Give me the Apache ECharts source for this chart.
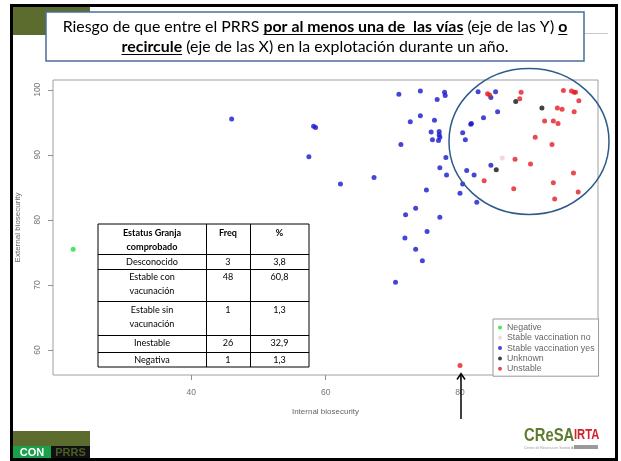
<!DOCTYPE html>
<html><head><meta charset="utf-8">
<script src="https://cdn.jsdelivr.net/npm/echarts@6/dist/echarts.min.js"></script>
<style>html,body{margin:0;padding:0;background:#fff}#c{width:621px;height:461px}</style>
</head><body><div id="c"></div>
<script>
// ---------------- DATA ----------------
const seriesNames = ['Negative', 'Stable vaccination no', 'Stable vaccination yes', 'Unknown', 'Unstable'];
const negative = [[22.4, 75.5]];
const stableVaccNo = [[86.3, 89.5]];
const stableVaccYes = [
  [70.9,99.3],[74.1,99.8],[77.7,99.6],[77.8,99.1],[76.6,98.5],[82.7,99.7],[85.3,99.7],[84.6,98.8],[85.6,96.6],[83.5,95.7],
  [81.6,94.7],[81.7,94.8],[74.1,96.0],[72.6,95.1],[76.2,95.3],[75.7,93.5],[76.9,93.6],[80.4,93.4],[77.0,92.7],[75.9,92.3],
  [76.8,92.2],[80.8,92.3],[71.2,91.6],[58.2,94.4],[58.5,94.2],[57.5,89.7],[77.9,89.6],[77.0,88.0],[81.0,87.6],[78.0,86.9],
  [82.1,86.9],[84.6,88.4],[67.2,86.5],[62.2,85.5],[80.4,85.5],[75.0,84.6],[80.0,84.1],[82.5,82.7],[73.4,81.8],[71.9,80.8],
  [77.0,80.4],[75.1,78.2],[71.8,77.2],[73.4,75.5],[74.4,73.7],[70.4,70.4],[46.0,95.5],[76.9,93.1]
];
const unknown = [[88.3, 98.2], [92.2, 97.2], [85.4, 87.7]];
const unstable = [
  [84.1,99.4],[84.4,99.2],[89.1,99.6],[88.9,98.6],[95.4,99.9],[96.6,99.8],[97.0,99.6],[97.2,99.6],[97.7,98.3],[94.5,97.2],
  [95.2,97.0],[97.0,96.6],[92.6,95.2],[93.9,95.2],[94.6,94.8],[91.2,92.7],[93.7,91.6],[88.2,89.3],[90.5,88.6],[96.9,87.2],
  [83.6,86.0],[93.9,85.7],[88.0,84.8],[97.6,84.3],[94.1,83.2],[80.0,57.6]
];
const xTicks = [40, 60, 80];
const yTicks = [60, 70, 80, 90, 100];
const xName = 'Internal biosecurity';
const yName = 'External biosecurity';

const tableHeader = [['Estatus Granja', 'comprobado'], ['Freq'], ['%']];
const tableStatus = [['Desconocido'], ['Estable con', 'vacunación'], ['Estable sin', 'vacunación'], ['Inestable'], ['Negativa']];
const tableFreq = ['3', '48', '1', '26', '1'];
const tablePct = ['3,8', '60,8', '1,3', '32,9', '1,3'];

const titleLine1 = [
  {t: 'Riesgo de que entre el PRRS ', b: false},
  {t: 'por al menos una de  las vías', b: true, u: true},
  {t: ' (eje de las Y) ', b: false},
  {t: 'o', b: true, u: true}
];
const titleLine2 = [
  {t: 'recircule', b: true, u: true},
  {t: ' (eje de las X) en la explotación durante un año.', b: false}
];

// ---------------- STYLE ----------------
const colors = ['#22dd33', '#f2cdd0', '#1616cc', '#111111', '#e61c26'];
const seriesData = [negative, stableVaccNo, stableVaccYes, unknown, unstable];

const mctx = document.createElement('canvas').getContext('2d');
function tw(t, f) { mctx.font = f; return mctx.measureText(t).width; }
const TF = 'Lato';
function fontOf(bold, size) { return (bold ? 'bold ' : 'normal ') + size.toFixed(2) + 'px ' + TF; }

const g = [];
// outer slide frame
g.push({type: 'rect', z: 100, shape: {x: 11.5, y: 5.5, width: 605, height: 454}, style: {fill: 'none', stroke: '#000', lineWidth: 3}});
// top-left olive block
g.push({type: 'rect', z: 15, shape: {x: 13, y: 7, width: 77, height: 28}, style: {fill: '#5c6b2e'}});
// faint decoration line right of title
g.push({type: 'line', z: 15, shape: {x1: 584, y1: 33.5, x2: 608, y2: 33.5}, style: {stroke: '#c8c8c8', lineWidth: 1}});
// title box
g.push({type: 'rect', z: 16, shape: {x: 46, y: 12, width: 538, height: 49}, style: {fill: '#fff', stroke: '#4a6f9a', lineWidth: 1.5}});

const w100 = titleLine1.reduce((s, seg) => s + tw(seg.t, fontOf(seg.b, 100)), 0);
const tSize = 505 / w100 * 100;
function addLine(segs, cx, cy) {
  const W = segs.reduce((s, seg) => s + tw(seg.t, fontOf(seg.b, tSize)), 0);
  let x = cx - W / 2;
  segs.forEach(seg => {
    const f = fontOf(seg.b, tSize);
    const w = tw(seg.t, f);
    g.push({type: 'text', z: 20, style: {text: seg.t, x: x, y: cy, font: f, fill: '#000', textAlign: 'left', textVerticalAlign: 'middle'}});
    if (seg.u) {
      const uy = Math.round(cy + tSize * 0.42) + 0.5;
      g.push({type: 'line', z: 20, shape: {x1: x, y1: uy, x2: x + w, y2: uy}, style: {stroke: '#000', lineWidth: 1}});
    }
    x += w;
  });
}
addLine(titleLine1, 315, 27);
addLine(titleLine2, 315, 47);

// table
const colX = [98, 206, 250, 309];
const rowY = [224, 253.5, 268.5, 301, 334.5, 351.5, 367];
const tabSize = 52 / tw('Desconocido', fontOf(false, 100)) * 100;
g.push({type: 'rect', z: 10, shape: {x: colX[0], y: rowY[0], width: colX[3] - colX[0], height: rowY[6] - rowY[0]}, style: {fill: '#fff', stroke: '#000', lineWidth: 1}});
for (let i = 1; i < rowY.length - 1; i++) {
  g.push({type: 'line', z: 11, shape: {x1: colX[0], y1: Math.round(rowY[i]) + 0.5, x2: colX[3], y2: Math.round(rowY[i]) + 0.5}, style: {stroke: '#000', lineWidth: 1}});
}
for (let j = 1; j < 3; j++) {
  g.push({type: 'line', z: 11, shape: {x1: colX[j] + 0.5, y1: rowY[0], x2: colX[j] + 0.5, y2: rowY[6]}, style: {stroke: '#000', lineWidth: 1}});
}
function cellText(lines, col, top, bold) {
  const cx = (colX[col] + colX[col + 1]) / 2;
  lines.forEach((ln, k) => {
    g.push({type: 'text', z: 12, style: {text: ln, x: cx, y: top + 8.8 + k * 14, font: fontOf(bold, tabSize), fill: '#000', textAlign: 'center', textVerticalAlign: 'middle'}});
  });
}
tableHeader.forEach((h, c) => cellText(h, c, rowY[0] + 0.5, true));
tableStatus.forEach((s, r) => {
  cellText(s, 0, rowY[r + 1], false);
  cellText([tableFreq[r]], 1, rowY[r + 1], false);
  cellText([tablePct[r]], 2, rowY[r + 1], false);
});

// ellipse annotation
g.push({type: 'ellipse', z: 18, shape: {cx: 529, cy: 141.5, rx: 80, ry: 73}, style: {fill: 'none', stroke: '#2f5b8c', lineWidth: 1.5}});
// arrow annotation
g.push({type: 'line', z: 18, shape: {x1: 461, y1: 374, x2: 461, y2: 419}, style: {stroke: '#000', lineWidth: 1.5}});
g.push({type: 'polyline', z: 18, shape: {points: [[457, 379.5], [461, 373.5], [465, 379.5]]}, style: {fill: 'none', stroke: '#000', lineWidth: 1.5}});

// CON PRRS logo
g.push({type: 'rect', z: 15, shape: {x: 13, y: 431, width: 77, height: 28}, style: {fill: '#5c6b2e'}});
g.push({type: 'rect', z: 16, shape: {x: 13, y: 446, width: 38, height: 13}, style: {fill: '#19a04a'}});
g.push({type: 'rect', z: 16, shape: {x: 51, y: 446, width: 39, height: 13}, style: {fill: '#111'}});
g.push({type: 'text', z: 17, style: {text: 'CON', x: 32, y: 453, font: 'bold 11px "Liberation Sans"', fill: '#fff', textAlign: 'center', textVerticalAlign: 'middle'}});
g.push({type: 'text', z: 17, style: {text: 'PRRS', x: 70.5, y: 453, font: 'bold 11px "Liberation Sans"', fill: '#4d5c2a', textAlign: 'center', textVerticalAlign: 'middle'}});

// CReSA / IRTA logo
g.push({type: 'text', z: 17, x: 524, y: 436, scaleX: 0.78, style: {text: 'CReSA', x: 0, y: 0, font: 'bold 19px "Liberation Sans"', fill: '#5e7a2e', textAlign: 'left', textVerticalAlign: 'middle'}});
g.push({type: 'text', z: 17, x: 574, y: 435, scaleX: 0.8, style: {text: 'IRTA', x: 0, y: 0, font: 'bold 14px "Liberation Sans"', fill: '#d3202a', textAlign: 'left', textVerticalAlign: 'middle'}});
g.push({type: 'rect', z: 16, shape: {x: 574, y: 445, width: 24, height: 4}, style: {fill: '#9a9a9a'}});
g.push({type: 'text', z: 17, style: {text: 'Centre de Recerca en Sanitat Animal', x: 524, y: 448, font: '3.5px "Liberation Sans"', fill: '#999', textAlign: 'left', textVerticalAlign: 'middle'}});

const chart = echarts.init(document.getElementById('c'), null, {renderer: 'canvas', width: 621, height: 461});
chart.setOption({
  animation: false,
  backgroundColor: '#fff',
  textStyle: {fontFamily: 'Liberation Sans'},
  grid: {left: 53, top: 80, right: 23, bottom: 86, show: true, borderColor: '#a0a0a0', borderWidth: 1, backgroundColor: 'transparent'},
  xAxis: {
    type: 'value', min: 19.4, max: 100.55,
    axisLine: {show: false},
    splitLine: {show: false},
    axisTick: {show: true, length: 5, customValues: xTicks, lineStyle: {color: '#909090'}},
    axisLabel: {customValues: xTicks, fontSize: 8.5, color: '#777', margin: 13},
    name: xName, nameLocation: 'middle', nameGap: 33,
    nameTextStyle: {fontSize: 8, color: '#666'}
  },
  yAxis: {
    type: 'value', min: 56.15, max: 101.5,
    axisLine: {show: false},
    splitLine: {show: false},
    axisTick: {show: true, length: 5, customValues: yTicks, lineStyle: {color: '#909090'}},
    axisLabel: {customValues: yTicks, fontSize: 8.5, color: '#777', margin: 11, rotate: 90},
    name: yName, nameLocation: 'middle', nameGap: 31,
    nameTextStyle: {fontSize: 8, color: '#666'}
  },
  legend: {
    orient: 'vertical', left: 493, top: 319,
    itemWidth: 4, itemHeight: 4, itemGap: 1.3, icon: 'circle',
    padding: [4, 4, 3, 5],
    borderColor: '#999', borderWidth: 1, backgroundColor: '#fff',
    selectedMode: false,
    textStyle: {fontSize: 8.8, color: '#666', lineHeight: 8.5},
    data: seriesNames
  },
  series: seriesNames.map((n, i) => ({
    name: n, type: 'scatter', data: seriesData[i], symbol: 'circle', symbolSize: 5,
    itemStyle: {color: colors[i]}, silent: true
  })),
  graphic: g
});
</script>
</body></html>
